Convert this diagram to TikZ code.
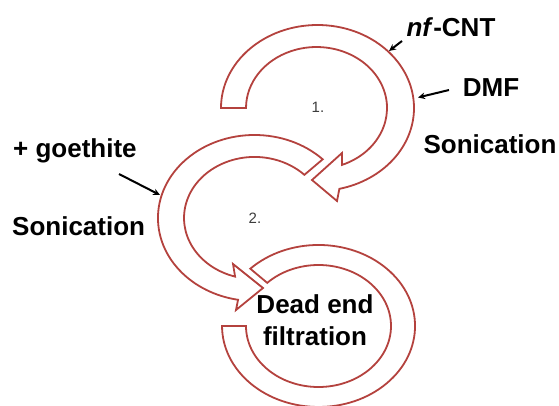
\documentclass[tikz,border=0pt]{standalone}
\usepackage{fontspec}
\setmainfont{Liberation Sans}
\usetikzlibrary{arrows.meta}
\definecolor{ringred}{RGB}{180,66,62}
\definecolor{numgray}{RGB}{60,60,60}
\begin{document}
\begin{tikzpicture}[x=1pt,y=-1pt,
  ring/.style={draw=ringred, line width=1.8pt, fill=white, line join=miter},
  lbl/.style={font=\fontsize{26}{28}\selectfont\bfseries, inner sep=0pt},
  num/.style={font=\fontsize{15}{17}\selectfont, text=numgray, inner sep=0pt},
  pointer/.style={-{Stealth[length=7pt,width=6.5pt]}, line width=2pt}]
\useasboundingbox (0,0) rectangle (559,406);
% ring 1
\draw[ring] (221,108) arc[start angle=180, end angle=436.9, x radius=96.5, y radius=83]
  -- (337,201) -- (312,180) -- (342,153) -- (342,164.9)
  arc[start angle=428.8, end angle=180, x radius=70.5, y radius=61] -- cycle;
% ring 2
\draw[ring] (322.7,159.3) arc[start angle=-45, end angle=-260.2, x radius=96.5, y radius=83]
  -- (236,310) -- (263,288) -- (233,264) -- (235.1,276.6)
  arc[start angle=-254, end angle=-45, x radius=70.5, y radius=61] -- cycle;
% ring 3
\draw[ring] (250.3,268.7) arc[start angle=-135, end angle=180, x radius=96.5, y radius=81]
  -- (246,326) arc[start angle=180, end angle=-135, x radius=72.5, y radius=61] -- cycle;
% numbers
\node[num] (n1) at (318,107) {1.};
\node[num] (n2) at (255,218) {2.};
% labels
\node[lbl, anchor=base] (cnt) at (451,37) {\textit{nf}-CNT};
\node[lbl, anchor=base] (dmf) at (491,97) {DMF};
\node[lbl, anchor=base] (son1) at (490,154) {Sonication};
\node[lbl, anchor=base west] (goe) at (13,158) {+ goethite};
\node[lbl, anchor=base west] (son2) at (12,235) {Sonication};
\node[lbl, anchor=base] (dead) at (315,313) {Dead end};
\node[lbl, anchor=base] (filt) at (315,345) {filtration};
% pointers
\coordinate (cntS) at (402,41);
\coordinate (cntE) at (389,51);
\coordinate (dmfS) at (449,90);
\coordinate (dmfE) at (418,97.5);
\coordinate (goeS) at (119,174);
\coordinate (goeE) at (160,195);
\draw[pointer] (cntS) -- (cntE);
\draw[pointer] (dmfS) -- (dmfE);
\draw[pointer] (goeS) -- (goeE);
\end{tikzpicture}
\end{document}
